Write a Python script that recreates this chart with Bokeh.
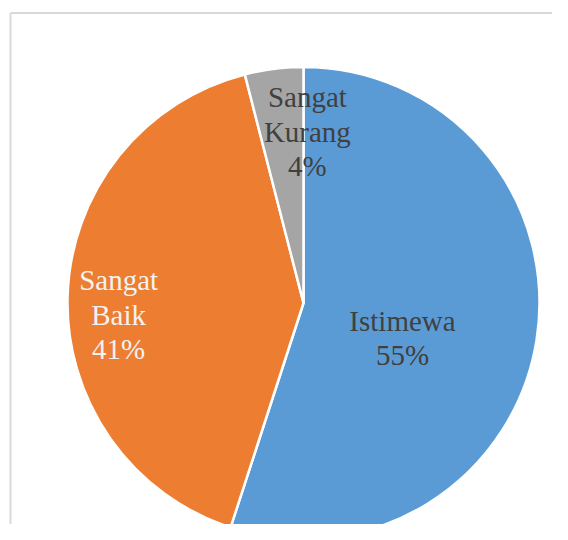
import math
from bokeh.plotting import figure
from bokeh.models import Range1d, ColumnDataSource
from bokeh.core.properties import value
from bokeh.embed import file_html
from bokeh.resources import INLINE

# Data
categories = ["Istimewa", "Sangat Baik", "Sangat Kurang"]
label_lines = [["Istimewa", "55%"], ["Sangat", "Baik", "41%"], ["Sangat", "Kurang", "4%"]]
percents = [55, 41, 4]
colors = ["#5B9BD5", "#ED7D31", "#A5A5A5"]
text_colors = ["#404040", "#F2F2F2", "#404040"]

# Layout
W, H = 552, 524
cx, cy = 303, H - 302.5
R = 236
label_r = [0.445, 0.785, 0.725]
label_shift_deg = [10.5, -5.5, 8.5]
line_gap = 34.5

total = float(sum(percents))
starts, ends, mids = [], [], []
cum = 0.0
for i, v in enumerate(percents):
    a0 = cum / total * 2 * math.pi
    cum += v
    a1 = cum / total * 2 * math.pi
    starts.append(math.pi / 2 - a0)
    ends.append(math.pi / 2 - a1)
    mids.append((a0 + a1) / 2 + math.radians(label_shift_deg[i]))

p = figure(width=W, height=H, output_backend="svg", toolbar_location=None,
           x_range=Range1d(0, W), y_range=Range1d(0, H), min_border=0)
p.axis.visible = False
p.grid.visible = False
p.outline_line_color = None
p.background_fill_color = "white"

# chart-area frame lines
p.segment(x0=[10, 10], y0=[H - 12.5, H - 12.5], x1=[W, 10], y1=[H - 12.5, 0],
          line_color="#D9D9D9", line_width=2)

src = ColumnDataSource(dict(start=starts, end=ends, color=colors, cat=categories))
p.wedge(x=cx, y=cy, radius=R, start_angle="start", end_angle="end",
        direction="clock", fill_color="color", line_color="white",
        line_width=2.5, source=src)

for i, lines in enumerate(label_lines):
    bx = cx + R * label_r[i] * math.sin(mids[i])
    by = cy + R * label_r[i] * math.cos(mids[i])
    n = len(lines)
    ys = [by + (n - 1) / 2 * line_gap - k * line_gap for k in range(n)]
    p.text(x=[bx] * n, y=ys, text=lines, text_color=text_colors[i],
           text_font=value("Liberation Serif"), text_font_size="29px",
           text_align="center", text_baseline="middle")

open("out.html", "w").write(file_html(p, INLINE))
